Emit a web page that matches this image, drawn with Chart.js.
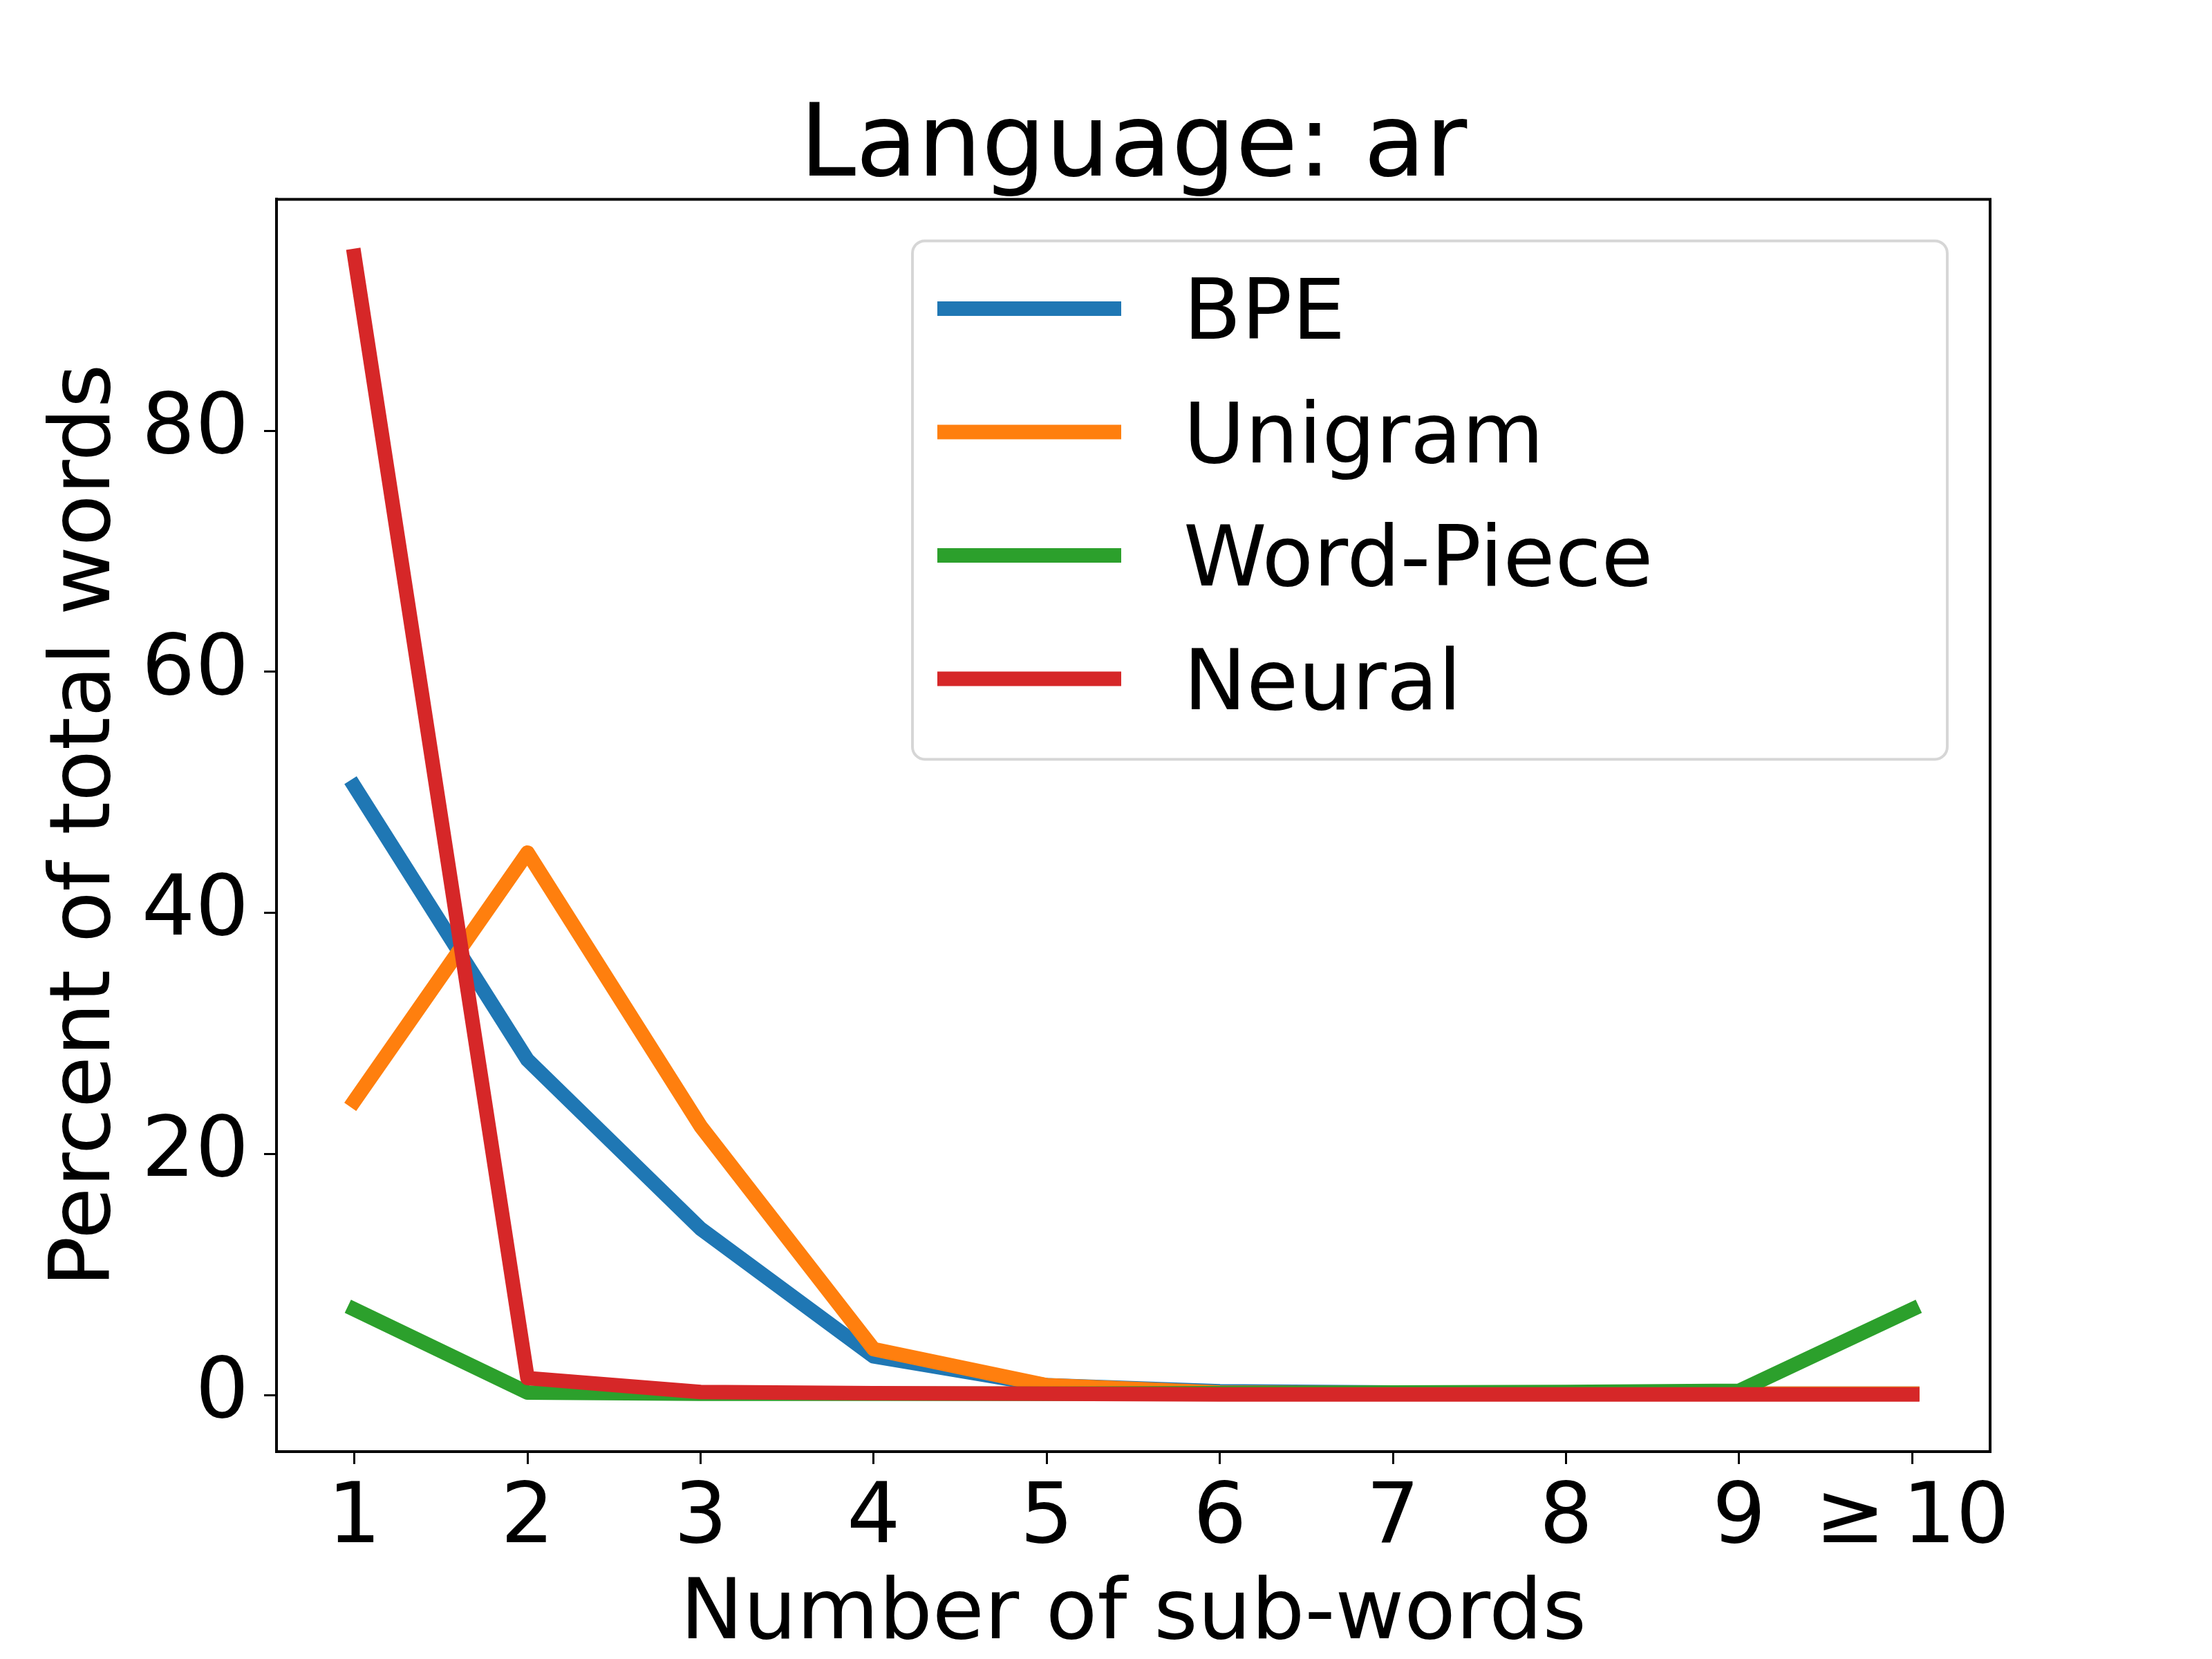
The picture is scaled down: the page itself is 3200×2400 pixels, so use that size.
<!DOCTYPE html>
<html>
<head>
<meta charset="utf-8">
<script src="https://cdn.jsdelivr.net/npm/chart.js@4.4.1/dist/chart.umd.min.js"></script>
<style>
  body { margin: 0; background: #fff; }
  canvas { display: block; }
</style>
</head>
<body>
<canvas id="chart" width="3200" height="2400"></canvas>
<script>
// values (percent of total words)
const categories = ['1', '2', '3', '4', '5', '6', '7', '8', '9', '≥\u200910'];
const bpe = [50.5, 27.8, 13.8, 3.2, 0.8, 0.3, 0.2, 0.15, 0.1, 0.1];
const unigram = [24.4, 45.0, 22.3, 3.8, 0.8, 0.2, 0.15, 0.1, 0.1, 0.1];
const wordPiece = [7.1, 0.2, 0.1, 0.1, 0.1, 0.15, 0.2, 0.25, 0.35, 7.1];
const neural = [94.5, 1.4, 0.25, 0.15, 0.1, 0.05, 0.05, 0.05, 0.05, 0.05];
const yTicks = [0, 20, 40, 60, 80];

Chart.defaults.font.family = "'DejaVu Sans', sans-serif";
Chart.defaults.color = '#000';

const toPoints = arr => arr.map((v, i) => ({ x: i + 1, y: v }));

function line(label, data, color, order) {
  return {
    label: label,
    data: toPoints(data),
    borderColor: color,
    backgroundColor: color,
    borderWidth: 21,
    borderCapStyle: 'square',
    borderJoinStyle: 'round',
    pointRadius: 0,
    tension: 0,
    fill: false,
    order: order
  };
}

// frame on all four sides, drawn over the lines like matplotlib spines
const frame = {
  id: 'frame',
  afterDatasetsDraw(chart) {
    const { ctx, chartArea: a } = chart;
    ctx.save();
    ctx.strokeStyle = '#000';
    ctx.lineWidth = 4;
    ctx.strokeRect(a.left, a.top, a.right - a.left, a.bottom - a.top);
    ctx.restore();
  }
};

// boxed legend in the upper right of the plot
const boxLegend = {
  id: 'boxLegend',
  afterDraw(chart) {
    const { ctx, chartArea: a } = chart;
    const w = 1497, h = 750;
    const left = a.right - 62 - w, top = a.top + 60;
    ctx.save();
    ctx.globalAlpha = 0.8;
    ctx.fillStyle = '#fff';
    ctx.strokeStyle = '#cccccc';
    ctx.lineWidth = 4;
    ctx.beginPath();
    ctx.roundRect(left, top, w, h, 18);
    ctx.fill();
    ctx.stroke();
    ctx.globalAlpha = 1;
    ctx.font = "122px 'DejaVu Sans'";
    ctx.textBaseline = 'middle';
    ctx.textAlign = 'left';
    chart.data.datasets.forEach((ds, i) => {
      const y = top + 98 + i * 178.5;
      ctx.strokeStyle = ds.borderColor;
      ctx.lineWidth = 21;
      ctx.lineCap = 'butt';
      ctx.beginPath();
      ctx.moveTo(left + 36, y);
      ctx.lineTo(left + 302, y);
      ctx.stroke();
      ctx.fillStyle = '#000';
      ctx.fillText(ds.label, left + 392, y + 12);
    });
    ctx.restore();
  }
};

new Chart(document.getElementById('chart'), {
  type: 'line',
  data: {
    datasets: [
      line('BPE', bpe, '#1f77b4', 3),
      line('Unigram', unigram, '#ff7f0e', 2),
      line('Word-Piece', wordPiece, '#2ca02c', 1),
      line('Neural', neural, '#d62728', 0)
    ]
  },
  options: {
    responsive: false,
    animation: false,
    layout: { padding: { left: 0, right: 321, top: 0, bottom: 0 } },
    plugins: {
      legend: { display: false },
      tooltip: { enabled: false },
      title: {
        display: true,
        text: 'Language: ar',
        fullSize: false,
        font: { size: 146, weight: 'normal', lineHeight: 0.9 },
        padding: { top: 150, bottom: 7 },
        color: '#000'
      }
    },
    scales: {
      x: {
        type: 'linear',
        min: 0.55,
        max: 10.45,
        afterBuildTicks: s => { s.ticks = categories.map((c, i) => ({ value: i + 1 })); },
        afterFit: s => { s.height = 300; },
        ticks: {
          callback: (v, i) => categories[i],
          autoSkip: false,
          maxRotation: 0,
          padding: 20,
          font: { size: 122, lineHeight: 1 }
        },
        grid: { drawOnChartArea: false, drawTicks: true, tickLength: 18, tickWidth: 3, tickColor: '#000' },
        border: { display: true, color: '#000', width: 4 },
        title: {
          display: true,
          text: 'Number of sub-words',
          font: { size: 122, lineHeight: 1 },
          padding: { top: 0, bottom: 1 }
        }
      },
      y: {
        min: -4.7,
        max: 99.2,
        afterBuildTicks: s => { s.ticks = yTicks.map(v => ({ value: v })); },
        afterFit: s => { s.width = 400; },
        ticks: {
          padding: 22,
          font: { size: 122, lineHeight: 1 }
        },
        grid: { drawOnChartArea: false, drawTicks: true, tickLength: 18, tickWidth: 3, tickColor: '#000' },
        border: { display: true, color: '#000', width: 4 },
        title: {
          display: true,
          text: 'Percent of total words',
          font: { size: 122, lineHeight: 1 },
          padding: { top: 65, bottom: 0 }
        }
      }
    }
  },
  plugins: [frame, boxLegend]
});
</script>
</body>
</html>
